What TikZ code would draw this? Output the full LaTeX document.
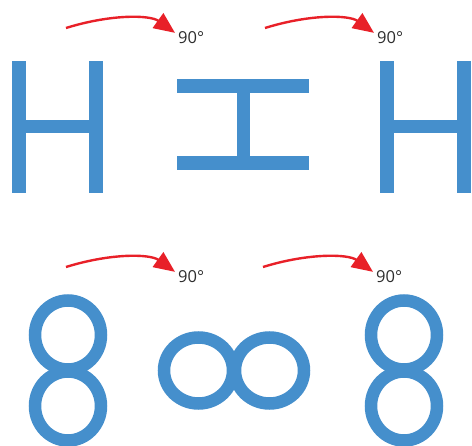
\documentclass[tikz,border=0pt]{standalone}
\usepackage{fontspec}
\setmainfont{Open Sans}
\usetikzlibrary{arrows.meta}
\definecolor{steel}{RGB}{69,143,204}
\definecolor{signal}{RGB}{232,32,40}
\definecolor{ink}{RGB}{45,45,45}
\tikzset{
  turn/.style={-{Triangle[length=21pt,width=18pt]},line width=2.4pt,draw=signal},
  deg/.style={font=\fontsize{16.5}{19}\selectfont,text=ink,inner sep=0pt,anchor=base west},
  % letter shapes
  pics/hshape/.style={code={
    \fill[#1] (-45.5,-66) rectangle (-31.5,66);
    \fill[#1] (31.5,-66) rectangle (45.5,66);
    \fill[#1] (-31.5,-6.5) rectangle (31.5,6.5);
  }},
  pics/hshape/.default=steel,
  pics/eight/.style={code={
    \draw[#1,line width=12.5pt] (0,-35.5) ellipse [x radius=33,y radius=34.5];
    \draw[#1,line width=12.5pt] (0,35.5) ellipse [x radius=33,y radius=34.5];
  }},
  pics/eight/.default=steel,
}

\begin{document}
\begin{tikzpicture}[x=1pt,y=-1pt]
    \useasboundingbox (0,0) rectangle (472,446);
    % turns
    \foreach \sx/\sy/\tx/\ty [count=\i] in {66/28/178/44, 265/28/377/44, 66/267/178/283, 263/267/376/283}
    {
      \coordinate (s\i) at (\sx,\sy);
      \node[deg] (d\i) at (\tx,\ty) {90°};
      \draw[turn] (s\i) .. controls +(45,-14) and +(-25,-18) .. ([xshift=-3pt,yshift=-1pt]d\i.north west);
    }
    % letters
    \pic at (57.5,127) {hshape};
    \pic[rotate=90] at (243,124.5) {hshape};
    \pic at (425.5,127) {hshape};
    \pic at (68,370.5) {eight};
    \pic[rotate=90] at (234,370.5) {eight};
    \pic at (404,370.5) {eight};
\end{tikzpicture}
\end{document}
